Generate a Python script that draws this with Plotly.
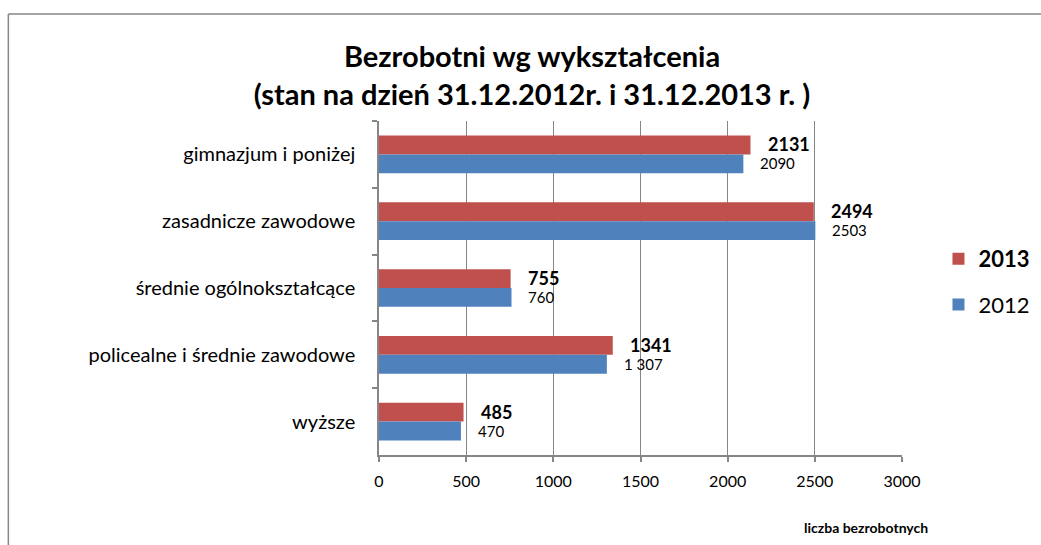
import plotly.graph_objects as go

categories = ["gimnazjum i poniżej", "zasadnicze zawodowe", "średnie ogólnokształcące",
              "policealne i średnie zawodowe", "wyższe"]
values_2013 = [2131, 2494, 755, 1341, 485]
values_2012 = [2090, 2503, 760, 1307, 470]
labels_2013 = ["2131", "2494", "755", "1341", "485"]
labels_2012 = ["2090", "2503", "760", "1 307", "470"]
x_ticks = [0, 500, 1000, 1500, 2000, 2500, 3000]

RED = "#C0504D"
BLUE = "#4F81BD"
GRID = "#868686"
FONT = "Lato"

W, H = 1041, 545
L, R, T, B = 379, 138.5, 121, 90
pw, ph = W - L - R, H - T - B


def px_x(p):  # pixel x -> paper x
    return (p - L) / pw


def px_y(p):  # pixel y -> paper y
    return (H - B - p) / ph


fig = go.Figure()
fig.add_trace(go.Bar(y=categories, x=values_2013, orientation="h", name="<b>2013</b>",
                     marker=dict(color=RED, line=dict(width=0)), legendgroup="a"))
fig.add_trace(go.Bar(y=categories, x=values_2012, orientation="h", name="2012",
                     marker=dict(color=BLUE, line=dict(width=0)), legendgroup="b"))

annotations = []
for c, v, t in zip(categories, values_2013, labels_2013):
    annotations.append(dict(x=v, y=c, xref="x", yref="y", text="<b>%s</b>" % t,
                            showarrow=False, xanchor="left", yanchor="middle",
                            xshift=15, yshift=10, font=dict(family=FONT, size=18, color="#000")))
for c, v, t in zip(categories, values_2012, labels_2012):
    annotations.append(dict(x=v, y=c, xref="x", yref="y", text=t,
                            showarrow=False, xanchor="left", yanchor="middle",
                            xshift=15, yshift=-9, font=dict(family=FONT, size=15, color="#000")))
annotations.append(dict(x=px_x(866), y=px_y(527), xref="paper", yref="paper",
                        text="<b>liczba bezrobotnych</b>", xanchor="center", yanchor="middle",
                        showarrow=False, font=dict(family=FONT, size=14, color="#000")))

bx, by = px_x(8), px_y(14)
shapes = [
    dict(type="line", xref="paper", yref="paper", x0=bx, x1=bx, y0=px_y(H + 5), y1=by,
         line=dict(color=GRID, width=1.5)),
    dict(type="line", xref="paper", yref="paper", x0=bx, x1=px_x(W + 5), y0=by, y1=by,
         line=dict(color=GRID, width=1.5)),
]

fig.update_layout(
    width=W, height=H,
    margin=dict(l=L, r=R, t=T, b=B, autoexpand=False),
    paper_bgcolor="white", plot_bgcolor="white",
    barmode="group", bargap=0.435, bargroupgap=0,
    title=dict(text="Bezrobotni wg wykształcenia<br>(stan na dzień 31.12.2012r. i 31.12.2013 r. )",
               x=532 / W, xanchor="center", y=1 - 67 / H, yanchor="middle",
               font=dict(family=FONT, size=29, color="#000", weight="bold")),
    font=dict(family=FONT, color="#000"),
    legend=dict(x=px_x(939), y=px_y(282), xanchor="left", yanchor="middle",
                font=dict(family=FONT, size=22, color="#000"),
                traceorder="grouped", tracegroupgap=14, bgcolor="rgba(0,0,0,0)"),
    annotations=annotations,
    shapes=shapes,
)
fig.update_xaxes(range=[0, 3000], tickvals=x_ticks, showgrid=True, gridcolor=GRID, gridwidth=1,
                 showline=True, linecolor=GRID, linewidth=1.5, ticks="outside", ticklen=5,
                 tickcolor=GRID, tickwidth=1.5, zeroline=False, ticklabelstandoff=6,
                 tickfont=dict(family=FONT, size=16, color="#000"))
fig.update_yaxes(autorange="reversed", showgrid=False, showline=True, linecolor=GRID, linewidth=1.5,
                 ticks="outside", ticklen=5, tickcolor=GRID, tickwidth=1.5, tickson="boundaries",
                 ticklabelstandoff=18,
                 tickfont=dict(family=FONT, size=20, color="#000"))

fig.write_html("out.html", config={"displayModeBar": False},
               post_script="document.body.style.margin='0';document.body.style.overflow='hidden';")
